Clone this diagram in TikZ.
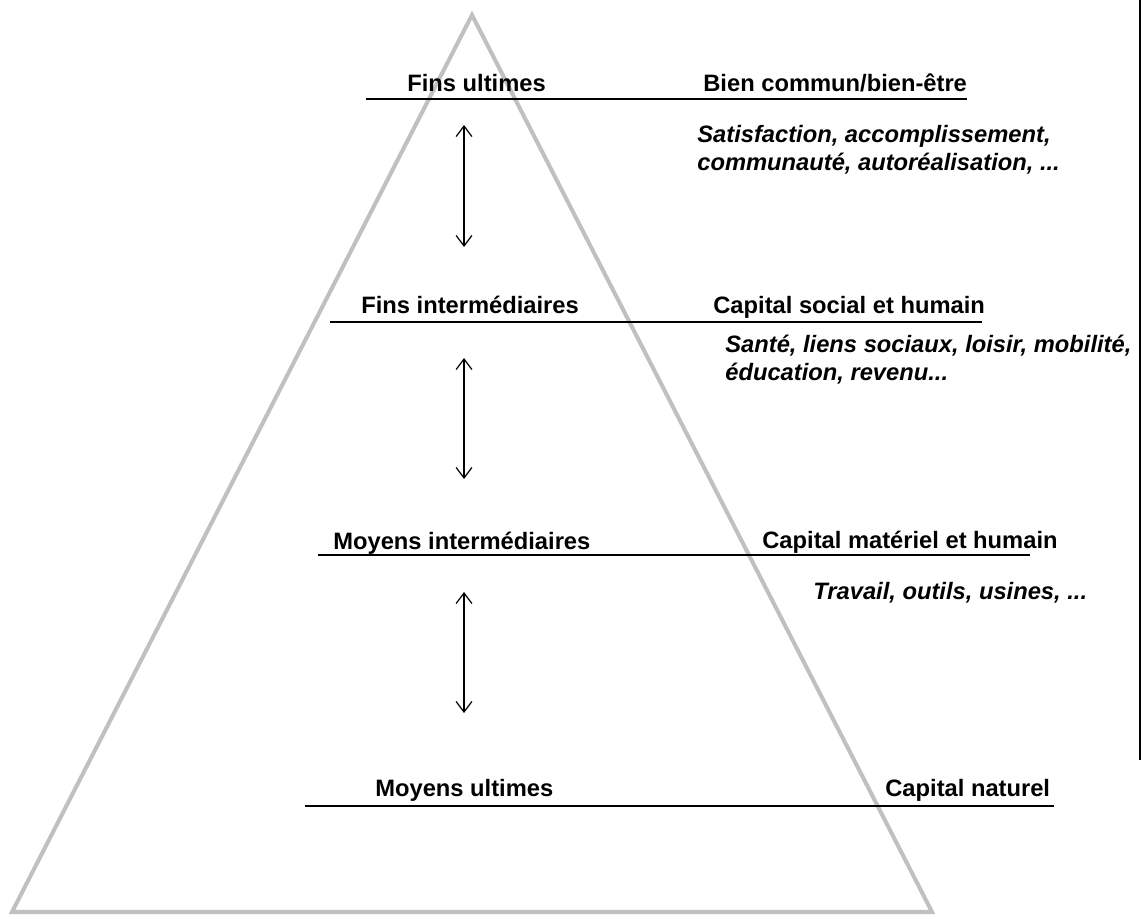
\documentclass[tikz,border=0pt]{standalone}
\usepackage{fontspec}
\setmainfont{Liberation Sans}
\usetikzlibrary{arrows.meta}
\definecolor{pyrgris}{RGB}{192,192,192}

\begin{document}
\begin{tikzpicture}[x=0.02cm, y=-0.02cm,
  niveau/.style={inner sep=0pt, anchor=base west, font=\fontsize{13.5}{16}\selectfont\bfseries},
  exemple/.style={inner sep=0pt, anchor=base west, align=left, font=\fontsize{13.5}{15.9}\selectfont\bfseries\itshape},
  trait/.style={line width=0.75pt},
  lien/.style={{Straight Barb[length=6pt,width=9pt]}-{Straight Barb[length=6pt,width=9pt]}, line width=0.7pt}]
\useasboundingbox (0,0) rectangle (1143,916);

% Pyramide
\draw[line width=2.3pt, pyrgris] (472,15) -- (12,912) -- (932,912) -- cycle;
% Bord droit
\draw[line width=1.6pt] (1140,0) -- (1140,760);

% Niveaux (traits horizontaux)
\draw[trait] (366,99) -- (967,99);
\draw[trait] (330,322) -- (982,322);
\draw[trait] (318,555) -- (1030,555);
\draw[trait] (305,806) -- (1054,806);

% Etiquettes de gauche
\node[niveau] (finsult) at (407,91) {Fins ultimes};
\node[niveau] (finsint) at (361,313) {Fins intermédiaires};
\node[niveau] (moyint) at (333,549) {Moyens intermédiaires};
\node[niveau] (moyult) at (375,796) {Moyens ultimes};

% Etiquettes de droite
\node[niveau] (biencommun) at (703,91) {Bien commun/bien-être};
\node[niveau] (capsocial) at (713,313) {Capital social et humain};
\node[niveau] (capmat) at (762,548) {Capital matériel et humain};
\node[niveau] (capnat) at (885,796) {Capital naturel};

% Exemples (base = derniere ligne)
\node[exemple] (ex1) at (697,170) {Satisfaction, accomplissement,\\communauté, autoréalisation, ...};
\node[exemple] (ex2) at (725,380) {Santé, liens sociaux, loisir, mobilité,\\éducation, revenu...};
\node[exemple] (ex3) at (813,599) {Travail, outils, usines, ...};

% Fleches entre niveaux
\coordinate (h1) at (464,125);
\coordinate (b1) at (464,247);
\coordinate (h2) at (464,358);
\coordinate (b2) at (464,479);
\coordinate (h3) at (464,592);
\coordinate (b3) at (464,713);
\draw[lien] (h1) -- (b1);
\draw[lien] (h2) -- (b2);
\draw[lien] (h3) -- (b3);

\end{tikzpicture}
\end{document}
